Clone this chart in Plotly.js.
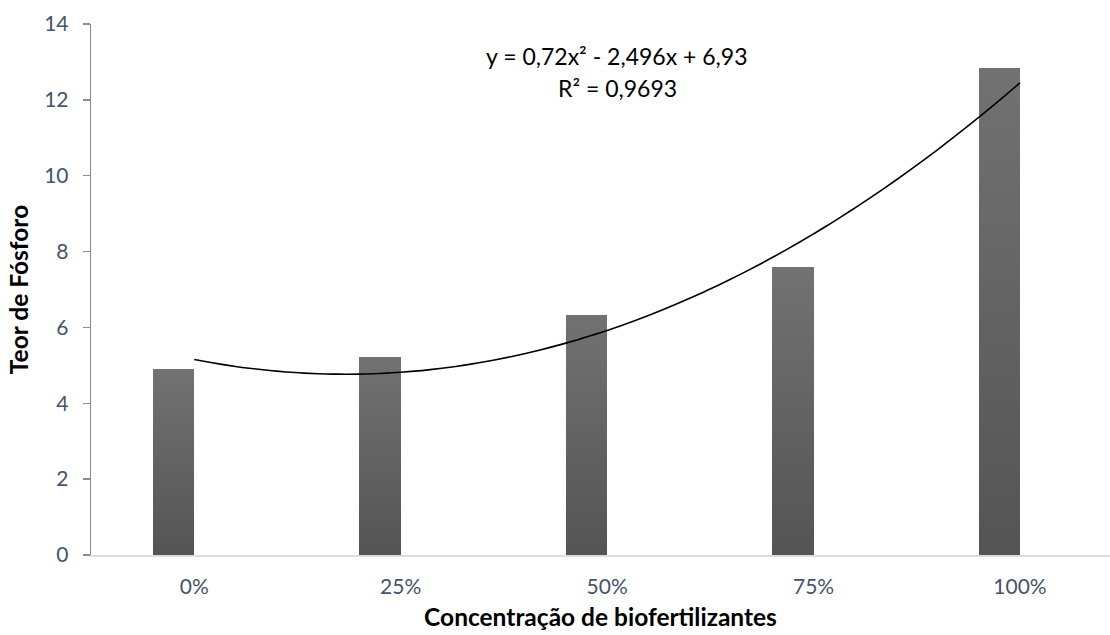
<!DOCTYPE html>
<html>
<head>
<meta charset="utf-8">
<script src="https://cdn.plot.ly/plotly-3.0.1.min.js"></script>
<style>html,body{margin:0;padding:0;background:#fff;}</style>
</head>
<body>
<div id="chart" style="width:1110px;height:635px;"></div>
<script>
// Data
const categories = ["0%", "25%", "50%", "75%", "100%"];
const teorFosforo = [4.9, 5.22, 6.33, 7.59, 12.84];
// Polynomial trend line printed on the chart: y = 0,72x² - 2,496x + 6,93 (x = 1..5)
const trendCoeffs = [0.72, -2.496, 6.93];
const trendLabel = ["y = 0,72x² - 2,496x + 6,93", "R² = 0,9693"];
const yTicks = [0, 2, 4, 6, 8, 10, 12, 14];

const idx = categories.map((c, i) => i);

// trend curve evaluated from the printed equation
const tX = [], tY = [];
const steps = 60;
for (let k = 0; k <= steps; k++) {
  const t = 1 + 4 * k / steps;
  tX.push(t - 1);
  tY.push(trendCoeffs[0] * t * t + trendCoeffs[1] * t + trendCoeffs[2]);
}

const fontFam = "Lato, 'Open Sans', sans-serif";

const traces = [
  {
    type: "bar",
    x: idx,
    y: teorFosforo,
    width: 0.2,
    offset: -0.2,
    marker: { color: "#626262", line: { width: 0 } },
    hoverinfo: "skip",
    showlegend: false
  },
  {
    type: "scatter",
    mode: "lines",
    x: tX,
    y: tY,
    line: { color: "#000000", width: 1.6, shape: "spline" },
    hoverinfo: "skip",
    showlegend: false
  }
];

const layout = {
  width: 1110,
  height: 635,
  margin: { l: 91, r: 0, t: 24, b: 80 },
  paper_bgcolor: "#ffffff",
  plot_bgcolor: "#ffffff",
  font: { family: fontFam, color: "#44546A", size: 21 },
  bargap: 0,
  xaxis: {
    range: [-0.5, 4.436],
    tickmode: "array",
    tickvals: idx,
    ticktext: categories,
    showgrid: false,
    zeroline: false,
    showline: true,
    linecolor: "#D9DDE3",
    linewidth: 2,
    ticks: "",
    ticklabelstandoff: 12,
    tickfont: { family: fontFam, size: 21, color: "#44546A" },
    title: {
      text: "<b>Concentração de biofertilizantes</b>",
      font: { family: fontFam, size: 24.5, color: "#000000" },
      standoff: 12
    }
  },
  yaxis: {
    range: [0, 14],
    tickmode: "array",
    tickvals: yTicks,
    showgrid: false,
    zeroline: false,
    showline: true,
    linecolor: "#8C8C8C",
    linewidth: 1.3,
    ticks: "outside",
    ticklen: 7,
    tickcolor: "#8C8C8C",
    tickwidth: 1.3,
    ticklabelstandoff: 10,
    tickfont: { family: fontFam, size: 21, color: "#44546A" },
    title: {
      text: "<b>Teor de Fósforo</b>",
      font: { family: fontFam, size: 24.5, color: "#000000" },
      standoff: 8
    }
  },
  annotations: [
    {
      xref: "paper", yref: "paper",
      x: (617 - 91) / 1019, y: (555 - 56) / 531,
      text: trendLabel[0],
      showarrow: false,
      xanchor: "center", yanchor: "middle",
      font: { family: fontFam, size: 23, color: "#000000" }
    },
    {
      xref: "paper", yref: "paper",
      x: (617 - 91) / 1019, y: (555 - 88) / 531,
      text: trendLabel[1],
      showarrow: false,
      xanchor: "center", yanchor: "middle",
      font: { family: fontFam, size: 23, color: "#000000" }
    }
  ]
};

Plotly.newPlot("chart", traces, layout, { staticPlot: true, displayModeBar: false }).then(function (gd) {
  // vertical gradient on bars like the original
  const svg = gd.querySelector("svg.main-svg");
  const ns = "http://www.w3.org/2000/svg";
  let defs = svg.querySelector("defs");
  if (!defs) { defs = document.createElementNS(ns, "defs"); svg.insertBefore(defs, svg.firstChild); }
  const grad = document.createElementNS(ns, "linearGradient");
  grad.setAttribute("id", "barGrad");
  grad.setAttribute("x1", "0"); grad.setAttribute("y1", "0");
  grad.setAttribute("x2", "0"); grad.setAttribute("y2", "1");
  [["0", "#727272"], ["1", "#545454"]].forEach(function (s) {
    const st = document.createElementNS(ns, "stop");
    st.setAttribute("offset", s[0]);
    st.setAttribute("stop-color", s[1]);
    grad.appendChild(st);
  });
  defs.appendChild(grad);
  gd.querySelectorAll(".bars .point path").forEach(function (p) {
    p.style.fill = "url(#barGrad)";
  });
});
</script>
</body>
</html>
